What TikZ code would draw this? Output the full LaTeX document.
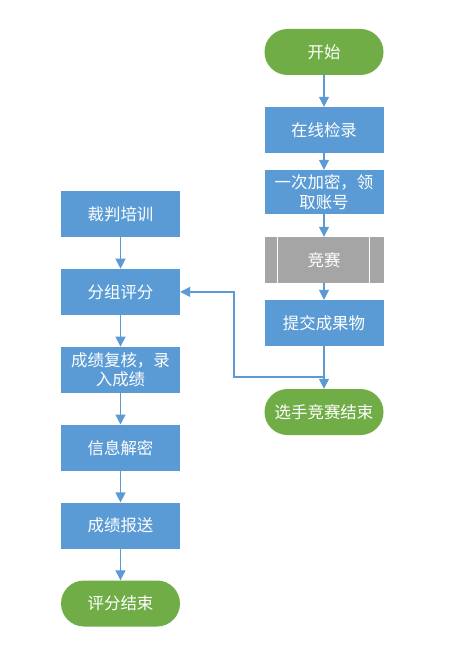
\documentclass[tikz,border=0pt]{standalone}
\usepackage{fontspec}
\setmainfont{Noto Sans CJK SC}
\usepackage{xcolor}
\usetikzlibrary{positioning,arrows.meta,calc}
\definecolor{flowblue}{HTML}{5B9BD5}
\definecolor{flowgreen}{HTML}{70AD47}
\definecolor{flowgray}{HTML}{A5A5A5}
\definecolor{linkblue}{HTML}{5B9BD5}

\begin{document}
\begin{tikzpicture}[
  x=1bp,y=-1bp,
  node distance=31.5bp,
  box/.style={fill=flowblue,minimum width=119bp,minimum height=46bp,inner sep=0pt,
              align=center,text=white,font=\fontsize{16.5}{20}\selectfont},
  term/.style={box,fill=flowgreen,rounded corners=23bp},
  proc/.style={box,fill=flowgray},
  arr/.style={-{Triangle[width=10bp,length=10bp]},line width=1.2bp,linkblue}]
  \useasboundingbox[fill=white] (0,0) rectangle (458,654);
  % right column: contestants
  \node[term] (start) at (324,52) {开始};
  \node[box] (checkin) at (324,130) {在线检录};
  \node[box,minimum height=44bp] (encrypt) at (324,192) {一次加密，领\\取账号};
  \node[proc] (contest) at (324,260) {竞赛};
  \draw[white,line width=1bp] ($(contest.north west)+(13,0)$) -- ($(contest.south west)+(13,0)$);
  \draw[white,line width=1bp] ($(contest.north east)+(-14,0)$) -- ($(contest.south east)+(-14,0)$);
  \node[box] (submit) at (324,323) {提交成果物};
  \node[term] (cend) at (324,412) {选手竞赛结束};
  % left column: judges
  \node[box] (train) at (120.5,214) {裁判培训};
  \node[box,below=of train] (group) {分组评分};
  \node[box,below=of group] (review) {成绩复核，录\\入成绩};
  \node[box,below=of review] (decrypt) {信息解密};
  \node[box,below=of decrypt] (report) {成绩报送};
  \node[term,below=of report] (jend) {评分结束};
  % connectors
  \draw[arr] (start) -- (checkin);
  \draw[arr] (checkin) -- (encrypt);
  \draw[arr] (encrypt) -- (contest);
  \draw[arr] (contest) -- (submit);
  \draw[arr] (submit) -- (cend);
  \draw[arr] (train) -- (group);
  \draw[arr] (group) -- (review);
  \draw[arr] (review) -- (decrypt);
  \draw[arr] (decrypt) -- (report);
  \draw[arr] (report) -- (jend);
  \coordinate (fb) at (324,377);
  \coordinate (fbk) at (234,377);
  \draw[arr] (fb) -- (fbk) |- (group.east);
\end{tikzpicture}
\end{document}
